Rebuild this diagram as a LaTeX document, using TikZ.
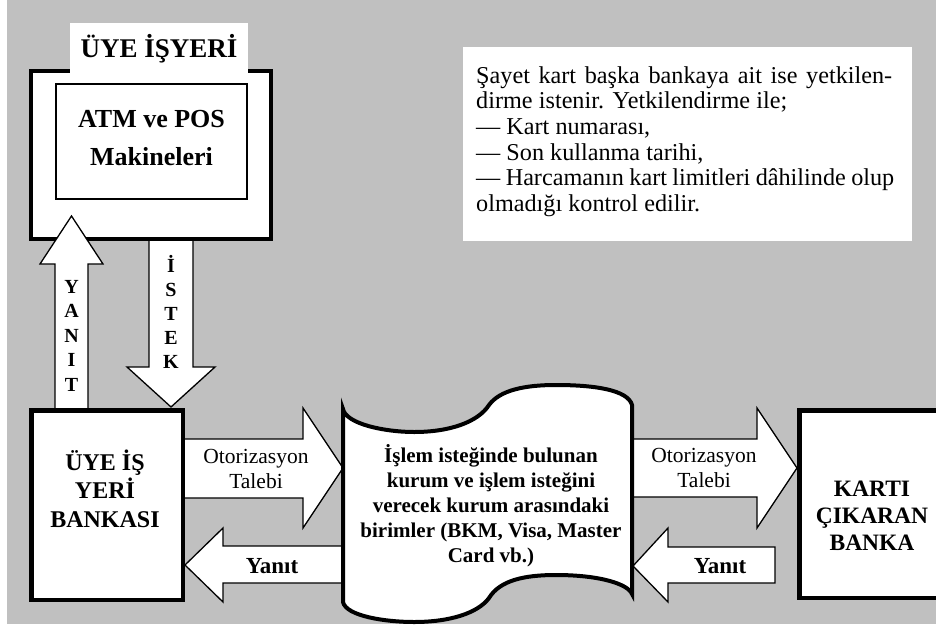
\documentclass[tikz,border=0pt]{standalone}
\usepackage{fontspec}
\setmainfont{Liberation Serif}
\definecolor{bggray}{HTML}{C0C0C0}
\begin{document}
\begin{tikzpicture}[x=1pt,y=-1pt,
  thickbox/.style={draw=black,fill=white,line width=4.5pt,inner sep=0pt},
  blockarrow/.style={draw=black,fill=white,line width=1.3pt,line join=miter},
  boldtext/.style={font=\fontsize{24}{28.5}\selectfont\bfseries,align=center,anchor=base,inner sep=0pt},
  armtext/.style={font=\fontsize{21.5}{25}\selectfont,align=center,anchor=base,inner sep=0pt},
  yanittext/.style={font=\fontsize{23}{27}\selectfont\bfseries,anchor=base,inner sep=0pt},
  vertletters/.style={font=\fontsize{20}{24.5}\selectfont\bfseries,align=center,anchor=base,inner sep=0pt}]
\useasboundingbox (0,0) rectangle (936,624);
\clip (0,0) rectangle (936,624);
\fill[bggray] (7,0) rectangle (936,624);

% note box
\node[fill=white,minimum width=449,minimum height=194,inner sep=0pt] (note) at (687.5,144) {};
\node[font=\fontsize{24.2}{25.7}\selectfont,align=left,anchor=base west,inner sep=0pt] (notetext) at (476,211.5)
  {\makebox[416pt][s]{Şayet kart başka bankaya ait ise yetkilen-}\\
   \makebox[311pt][s]{dirme istenir. Yetkilendirme ile;}\\
   — Kart numarası,\\
   — Son kullanma tarihi,\\
   \makebox[418pt][s]{— Harcamanın kart limitleri dâhilinde olup}\\
   olmadığı kontrol edilir.};

% ISTEK arrow (under the top box)
\draw[blockarrow] (149,235) -- (149,367) -- (127,367) -- (171,407) -- (215,367) -- (193,367) -- (193,235) -- cycle;
\node[vertletters,font=\fontsize{20}{24}\selectfont\bfseries] (istek) at (171,368) {İ\\S\\T\\E\\K};

% top box
\node[thickbox,minimum width=240,minimum height=168] (shop) at (151,155) {};
\node[fill=white,minimum width=178,minimum height=52,inner sep=0pt,
      font=\fontsize{27}{30}\selectfont\bfseries] (shoplabel) at (159,49) {ÜYE İŞYERİ};
\node[draw=black,line width=1.5pt,fill=white,minimum width=191,minimum height=115,inner sep=0pt] (atm) at (151.5,141.5) {};
\node[boldtext,font=\fontsize{26}{38}\selectfont\bfseries] (atmtext) at (151.5,165) {ATM ve POS\\Makineleri};

% YANIT arrow (over the top box)
\draw[blockarrow] (55,412) -- (55,264) -- (40,264) -- (71.5,216) -- (103,264) -- (88,264) -- (88,412) -- cycle;
\node[vertletters] (yanitv) at (71.5,391) {Y\\A\\N\\I\\T};

% horizontal arrows
\draw[blockarrow] (180,439) -- (303,439) -- (303,408) -- (343,468) -- (303,528) -- (303,498) -- (180,498) -- cycle;
\node[armtext] (oto1) at (256,488) {Otorizasyon\\Talebi};
\draw[blockarrow] (185,565) -- (223,528) -- (223,546) -- (350,546) -- (350,583) -- (223,583) -- (223,602) -- cycle;
\node[yanittext] (yanit1) at (272,573) {Yanıt};
\draw[blockarrow] (625,439) -- (757,439) -- (757,408) -- (797,468) -- (757,528) -- (757,497) -- (625,497) -- cycle;
\node[armtext] (oto2) at (704,487) {Otorizasyon\\Talebi};
\draw[blockarrow] (633,566) -- (668,528) -- (668,547) -- (775,547) -- (775,583) -- (668,583) -- (668,602) -- cycle;
\node[yanittext] (yanit2) at (720,573) {Yanıt};

% bank box
\node[thickbox,minimum width=151.5,minimum height=189.5] (bank) at (107,505) {};
\node[boldtext] (banktext) at (105,527) {ÜYE İŞ\\YERİ\\BANKASI};

% document shape
\draw[draw=black,fill=white,line width=4pt,line join=miter]
  (343,409) .. controls (346,424) and (385,432) .. (414,432)
  .. controls (450,432) and (478,422) .. (489,405)
  .. controls (500,390) and (525,385) .. (556,385)
  .. controls (595,385) and (628,390) .. (632,405)
  -- (632,594)
  .. controls (628,584) and (600,575) .. (556,575)
  .. controls (525,575) and (500,580) .. (489,598)
  .. controls (478,613) and (450,622) .. (414,622)
  .. controls (385,622) and (346,616) .. (343,602) -- cycle;
\node[boldtext,font=\fontsize{21}{25}\selectfont\bfseries] (doctext) at (491,562)
  {İşlem isteğinde bulunan\\kurum ve işlem isteğini\\verecek kurum arasındaki\\birimler (BKM, Visa, Master\\Card vb.)};

% issuing bank box
\node[thickbox,minimum width=151,minimum height=187.5] (issuer) at (874.75,504) {};
\node[boldtext,font=\fontsize{23.5}{27}\selectfont\bfseries] (issuertext) at (872,550) {KARTI\\ÇIKARAN\\BANKA};
\end{tikzpicture}
\end{document}
